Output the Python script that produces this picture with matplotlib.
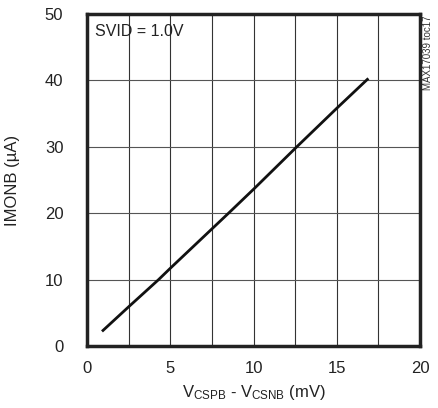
import numpy as np
import matplotlib.pyplot as plt

plt.rc('font', family=['Liberation Sans Narrow', 'Liberation Sans', 'DejaVu Sans'], size=12)

# datos
vcs = [0.9, 2.5, 4.3, 5.0, 8.5, 10.0, 12.6, 15.0, 16.9]
imon = [2.2, 5.9, 10.0, 11.7, 20.0, 23.6, 30.0, 35.8, 40.3]
xticks = [0, 5, 10, 15, 20]
yticks = [0, 10, 20, 30, 40, 50]

fig = plt.figure(figsize=(4.39, 4.08), dpi=100)
ax = fig.add_axes([87/439, 1 - 346/408, 333/439, 332/408])

ax.plot(vcs, imon, color='#111111', linewidth=2.0, solid_capstyle='butt')

# Grid
ax.set_xticks(np.arange(0, 20.1, 2.5), minor=True)
ax.grid(True, which='minor', axis='x', color='#333333', linewidth=0.8)
ax.grid(True, which='major', axis='x', color='#333333', linewidth=0.8)
ax.grid(True, which='major', axis='y', color='#555555', linewidth=0.8)
ax.set_axisbelow(True)

ax.set_xlim(0, 20)
ax.set_ylim(0, 50)
ax.set_xticks(xticks)
ax.set_yticks(yticks)
ax.tick_params(which='both', length=0, labelsize=12, colors='#222222')
ax.tick_params(axis='x', pad=11)
ax.tick_params(axis='y', pad=17)
for s in ax.spines.values():
    s.set_linewidth(2.5)
    s.set_color('#222222')

ax.set_xlabel(r'$\mathregular{V_{CSPB}}$ - $\mathregular{V_{CSNB}}$ (mV)', fontsize=12, color='#222222', labelpad=5)
ax.set_ylabel('IMONB (µA)', fontsize=12, color='#222222', labelpad=18)
ax.text(0.025, 0.97, 'SVID = 1.0V', transform=ax.transAxes, ha='left', va='top', fontsize=11.5, color='#222222')
fig.text(428/439, 1 - 15/408, 'MAX17039 toc17', rotation=90, ha='center', va='top', fontsize=7, color='#333333')

fig.savefig('out.png', dpi=100)
